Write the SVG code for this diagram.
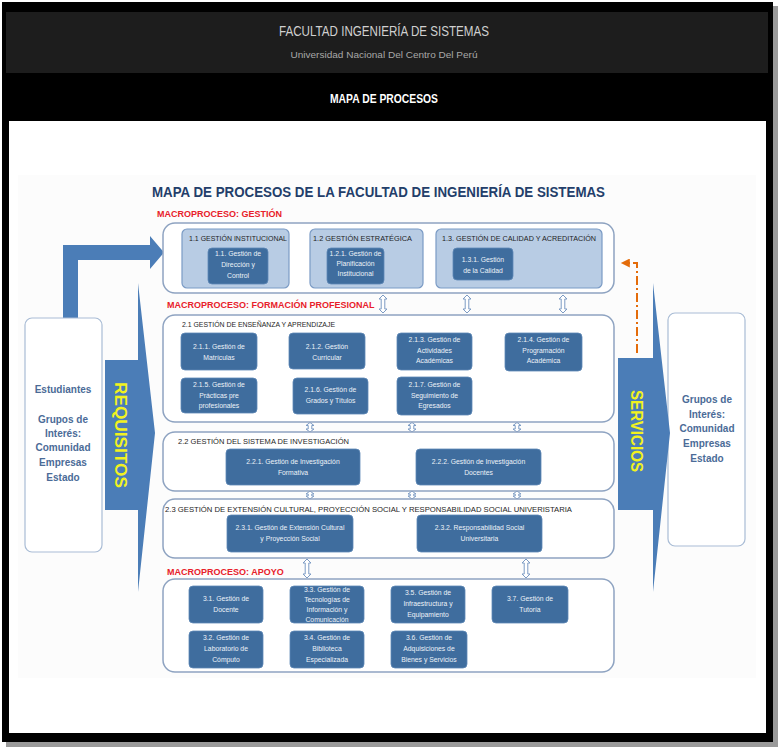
<svg xmlns="http://www.w3.org/2000/svg" width="781" height="751" viewBox="0 0 781 751">
<defs>
<style>
.hdr{font-family:"Liberation Sans Narrow","Liberation Sans",Arial,sans-serif}
.outer{fill:#fff;stroke:#8ea3c1;stroke-width:1.5}
.lb{fill:#b8cce4;stroke:#7b9bc5;stroke-width:1.2}
.db{fill:#3f6d9e;stroke:#5e88b6;stroke-width:0.8}
.dt{font-family:"Liberation Sans",Arial,sans-serif;font-size:6.8px;fill:#edf2f8;text-anchor:middle}
.lt{font-family:"Liberation Sans",Arial,sans-serif;font-size:7px;fill:#1e1e1e}
.red{font-family:"Liberation Sans",Arial,sans-serif;font-size:9px;font-weight:bold;fill:#e8202a}
.da{fill:#fff;stroke:#7c9bc4;stroke-width:1}
.big{fill:#4b7db7}
.ext{fill:#fff;stroke:#a9bcd5;stroke-width:1.2}
.et{font-family:"Liberation Sans",Arial,sans-serif;font-size:10px;font-weight:bold;fill:#4b6b97;text-anchor:middle}
.yl{font-family:"Liberation Sans",Arial,sans-serif;font-size:16px;font-weight:bold;fill:#f2f21e;text-anchor:middle}
</style>
<marker id="oa" viewBox="0 0 10 10" markerWidth="12" markerHeight="9" markerUnits="userSpaceOnUse" refX="2" refY="5" orient="auto-start-reverse">
<path d="M0,0 L10,5 L0,10 Z" fill="#e46c0a"/>
</marker>
</defs>

<!-- page frame -->
<rect x="0" y="0" width="781" height="751" fill="#fff"/>
<rect x="6" y="6" width="772" height="741" fill="#9a9a9a"/>
<rect x="2" y="2" width="771" height="740" fill="#000"/>
<rect x="6" y="12" width="762" height="61" fill="#1d1d1d"/>
<rect x="9" y="121" width="757" height="612" fill="#fff"/>
<rect x="18" y="175" width="738" height="503" fill="#fcfcfc"/>

<text class="hdr" x="384" y="36" font-size="15" fill="#d0d0d0" text-anchor="middle" textLength="210" lengthAdjust="spacingAndGlyphs">FACULTAD INGENIERÍA DE SISTEMAS</text>
<text class="hdr" x="384" y="58" font-size="9.5" fill="#a8a8a8" text-anchor="middle" textLength="187" lengthAdjust="spacingAndGlyphs">Universidad Nacional Del Centro Del Perú</text>
<text class="hdr" x="384" y="103" font-size="13" font-weight="bold" fill="#fff" text-anchor="middle" textLength="108" lengthAdjust="spacingAndGlyphs">MAPA DE PROCESOS</text>

<text x="152" y="197" font-family="Liberation Sans,Arial,sans-serif" font-size="14" font-weight="bold" fill="#233e6a" textLength="453" lengthAdjust="spacingAndGlyphs">MAPA DE PROCESOS DE LA FACULTAD DE INGENIERÍA DE SISTEMAS</text>
<text class="red" x="157" y="217">MACROPROCESO: GESTIÓN</text>
<text class="red" x="167" y="308">MACROPROCESO: FORMACIÓN PROFESIONAL</text>
<text class="red" x="167" y="575">MACROPROCESO: APOYO</text>

<!-- connectors -->
<g id="connectors">
<path class="big" d="M63,318 V245 H150 V236 L164,252.5 L150,269 V260 H78 V318 Z"/>
<path d="M628,263 H637 V355" fill="none" stroke="#e46c0a" stroke-width="2" stroke-dasharray="2,3,9,3" marker-start="url(#oa)"/>
<path class="da" d="M383,295 L387,299 L384.8,299 L384.8,309 L387,309 L383,313 L379,309 L381.2,309 L381.2,299 L379,299 Z"/>
<path class="da" d="M467,295 L471,299 L468.8,299 L468.8,309 L471,309 L467,313 L463,309 L465.2,309 L465.2,299 L463,299 Z"/>
<path class="da" d="M563,295 L567,299 L564.8,299 L564.8,309 L567,309 L563,313 L559,309 L561.2,309 L561.2,299 L559,299 Z"/>
<path class="da" d="M310,422.5 L314,425.5 L311.8,425.5 L311.8,429 L314,429 L310,432 L306,429 L308.2,429 L308.2,425.5 L306,425.5 Z"/>
<path class="da" d="M412,422.5 L416,425.5 L413.8,425.5 L413.8,429 L416,429 L412,432 L408,429 L410.2,429 L410.2,425.5 L408,425.5 Z"/>
<path class="da" d="M517,422.5 L521,425.5 L518.8,425.5 L518.8,429 L521,429 L517,432 L513,429 L515.2,429 L515.2,425.5 L513,425.5 Z"/>
<path class="da" d="M310,491 L314,494 L311.8,494 L311.8,496 L314,496 L310,499 L306,496 L308.2,496 L308.2,494 L306,494 Z"/>
<path class="da" d="M412,491 L416,494 L413.8,494 L413.8,496 L416,496 L412,499 L408,496 L410.2,496 L410.2,494 L408,494 Z"/>
<path class="da" d="M517,491 L521,494 L518.8,494 L518.8,496 L521,496 L517,499 L513,496 L515.2,496 L515.2,494 L513,494 Z"/>
<path class="da" d="M307,559 L311,563 L308.8,563 L308.8,574 L311,574 L307,578 L303,574 L305.2,574 L305.2,563 L303,563 Z"/>
<path class="da" d="M526,559 L530,563 L527.8,563 L527.8,574 L530,574 L526,578 L522,574 L524.2,574 L524.2,563 L522,563 Z"/>
</g>

<!-- external parties -->
<g id="estudiantes">
<rect class="ext" x="25" y="318" width="77" height="234" rx="7"/>
<text class="et" x="63" y="393">Estudiantes</text>
<text class="et" x="63" y="423">Grupos de</text>
<text class="et" x="63" y="437">Interés:</text>
<text class="et" x="63" y="451">Comunidad</text>
<text class="et" x="63" y="466">Empresas</text>
<text class="et" x="63" y="481">Estado</text>
</g>
<g id="grupos-interes">
<rect class="ext" x="668" y="313" width="77" height="233" rx="7"/>
<text class="et" x="707" y="403">Grupos de</text>
<text class="et" x="707" y="418">Interés:</text>
<text class="et" x="707" y="432">Comunidad</text>
<text class="et" x="707" y="447">Empresas</text>
<text class="et" x="707" y="462">Estado</text>
</g>
<g id="requisitos">
<path class="big" d="M105,360 H138 V283 L155,433 L138,592 V510 H105 Z"/>
<text class="yl" x="121" y="441" transform="rotate(90,121,435)" textLength="106" lengthAdjust="spacingAndGlyphs">REQUISITOS</text>
</g>
<g id="servicios">
<path class="big" d="M618,358 H653 V283 L670,433 L653,592 V510 H618 Z"/>
<text class="yl" x="637" y="437" transform="rotate(90,637,431)" textLength="82" lengthAdjust="spacingAndGlyphs">SERVICIOS</text>
</g>

<!-- Macroproceso Gestión -->
<g id="gestion">
<rect class="outer" x="163" y="223" width="451" height="70" rx="12"/>
</g>
<g id="g11">
<rect class="lb" x="182" y="229" width="107" height="59" rx="5"/>
<text class="lt" x="189" y="241" textLength="98" lengthAdjust="spacingAndGlyphs">1.1 GESTIÓN INSTITUCIONAL</text>
</g>
<g id="g111">
<rect class="db" x="208" y="248" width="60" height="36" rx="4"/>
<text class="dt" x="238" y="256">1.1. Gestión de</text>
<text class="dt" x="238" y="267">Dirección y</text>
<text class="dt" x="238" y="278">Control</text>
</g>
<g id="g12">
<rect class="lb" x="310" y="229" width="113" height="59" rx="5"/>
<text class="lt" x="313" y="241" textLength="99" lengthAdjust="spacingAndGlyphs">1.2 GESTIÓN ESTRATÉGICA</text>
</g>
<g id="g121">
<rect class="db" x="327" y="248" width="57" height="36" rx="4"/>
<text class="dt" x="355.5" y="256" font-size="6">1.2.1. Gestión de</text>
<text class="dt" x="355.5" y="266" font-size="6">Planificación</text>
<text class="dt" x="355.5" y="276" font-size="6">Institucional</text>
</g>
<g id="g13">
<rect class="lb" x="436" y="229" width="166" height="59" rx="5"/>
<text class="lt" x="442" y="241" textLength="154" lengthAdjust="spacingAndGlyphs">1.3. GESTIÓN DE CALIDAD Y ACREDITACIÓN</text>
</g>
<g id="g131">
<rect class="db" x="453" y="248" width="60" height="32" rx="4"/>
<text class="dt" x="483" y="262">1.3.1. Gestión</text>
<text class="dt" x="483" y="273">de la Calidad</text>
</g>

<!-- Macroproceso Formación profesional -->
<g id="f21">
<rect class="outer" x="163" y="315" width="451" height="107" rx="12"/>
<text class="lt" x="182" y="327" textLength="153" lengthAdjust="spacingAndGlyphs">2.1 GESTIÓN DE ENSEÑANZA Y APRENDIZAJE</text>
</g>
<g id="f211">
<rect class="db" x="181" y="333" width="76" height="37" rx="4"/>
<text class="dt" x="219" y="349">2.1.1. Gestión de</text>
<text class="dt" x="219" y="360">Matrículas</text>
</g>
<g id="f212">
<rect class="db" x="289" y="333" width="76" height="36" rx="4"/>
<text class="dt" x="327" y="349">2.1.2. Gestión</text>
<text class="dt" x="327" y="360">Curricular</text>
</g>
<g id="f213">
<rect class="db" x="397" y="333" width="75" height="37" rx="4"/>
<text class="dt" x="434.5" y="342">2.1.3. Gestión de</text>
<text class="dt" x="434.5" y="352.5">Actividades</text>
<text class="dt" x="434.5" y="363">Académicas</text>
</g>
<g id="f214">
<rect class="db" x="505" y="333" width="77" height="38" rx="4"/>
<text class="dt" x="543.5" y="342">2.1.4. Gestión de</text>
<text class="dt" x="543.5" y="352.5">Programación</text>
<text class="dt" x="543.5" y="363">Académica</text>
</g>
<g id="f215">
<rect class="db" x="181" y="378" width="76" height="35" rx="4"/>
<text class="dt" x="219" y="387">2.1.5. Gestión de</text>
<text class="dt" x="219" y="397.5">Prácticas pre</text>
<text class="dt" x="219" y="408">profesionales</text>
</g>
<g id="f216">
<rect class="db" x="293" y="378" width="75" height="36" rx="4"/>
<text class="dt" x="330.5" y="392">2.1.6. Gestión de</text>
<text class="dt" x="330.5" y="402.5">Grados y Títulos</text>
</g>
<g id="f217">
<rect class="db" x="397" y="377" width="75" height="38" rx="4"/>
<text class="dt" x="434.5" y="387">2.1.7. Gestión de</text>
<text class="dt" x="434.5" y="397.5">Seguimiento de</text>
<text class="dt" x="434.5" y="408">Egresados</text>
</g>

<g id="f22">
<rect class="outer" x="163" y="432" width="451" height="59" rx="12"/>
<text class="lt" x="178" y="444" textLength="171" lengthAdjust="spacingAndGlyphs">2.2 GESTIÓN DEL SISTEMA DE INVESTIGACIÓN</text>
</g>
<g id="f221">
<rect class="db" x="226" y="449" width="134" height="36" rx="4"/>
<text class="dt" x="293" y="464" font-size="7.2">2.2.1. Gestión de Investigación</text>
<text class="dt" x="293" y="475" font-size="7.2">Formativa</text>
</g>
<g id="f222">
<rect class="db" x="416" y="449" width="125" height="36" rx="4"/>
<text class="dt" x="478.5" y="464" font-size="7.2">2.2.2. Gestión de Investigación</text>
<text class="dt" x="478.5" y="475" font-size="7.2">Docentes</text>
</g>

<g id="f23">
<rect class="outer" x="163" y="499" width="451" height="59" rx="12"/>
<text class="lt" x="165" y="512" textLength="407" lengthAdjust="spacingAndGlyphs">2.3 GESTIÓN DE EXTENSIÓN CULTURAL, PROYECCIÓN SOCIAL Y RESPONSABILIDAD SOCIAL UNIVERISTARIA</text>
</g>
<g id="f231">
<rect class="db" x="227" y="515" width="126" height="37" rx="4"/>
<text class="dt" x="290" y="530" font-size="7.2">2.3.1. Gestión de Extensión Cultural</text>
<text class="dt" x="290" y="541" font-size="7.2">y Proyección Social</text>
</g>
<g id="f232">
<rect class="db" x="417" y="515" width="125" height="37" rx="4"/>
<text class="dt" x="479.5" y="530" font-size="7.2">2.3.2. Responsabilidad Social</text>
<text class="dt" x="479.5" y="541" font-size="7.2">Universitaria</text>
</g>

<!-- Macroproceso Apoyo -->
<g id="apoyo">
<rect class="outer" x="163" y="579" width="451" height="93" rx="12"/>
</g>
<g id="a31">
<rect class="db" x="189" y="586" width="74" height="37" rx="4"/>
<text class="dt" x="226" y="601">3.1. Gestión de</text>
<text class="dt" x="226" y="612">Docente</text>
</g>
<g id="a33">
<rect class="db" x="290" y="586" width="74" height="37" rx="4"/>
<text class="dt" x="327" y="591.5" font-size="6.5">3.3. Gestión de</text>
<text class="dt" x="327" y="601.5" font-size="6.5">Tecnologías de</text>
<text class="dt" x="327" y="611.5" font-size="6.5">Información y</text>
<text class="dt" x="327" y="621.5" font-size="6.5">Comunicación</text>
</g>
<g id="a35">
<rect class="db" x="391" y="586" width="74" height="37" rx="4"/>
<text class="dt" x="428" y="595">3.5. Gestión de</text>
<text class="dt" x="428" y="606">Infraestructura y</text>
<text class="dt" x="428" y="617">Equipamiento</text>
</g>
<g id="a37">
<rect class="db" x="492" y="586" width="76" height="37" rx="4"/>
<text class="dt" x="530" y="601">3.7. Gestión de</text>
<text class="dt" x="530" y="612">Tutoría</text>
</g>
<g id="a32">
<rect class="db" x="189" y="631" width="74" height="37" rx="4"/>
<text class="dt" x="226" y="640">3.2. Gestión de</text>
<text class="dt" x="226" y="651">Laboratorio de</text>
<text class="dt" x="226" y="662">Cómputo</text>
</g>
<g id="a34">
<rect class="db" x="290" y="631" width="74" height="37" rx="4"/>
<text class="dt" x="327" y="640">3.4. Gestión de</text>
<text class="dt" x="327" y="651">Biblioteca</text>
<text class="dt" x="327" y="662">Especializada</text>
</g>
<g id="a36">
<rect class="db" x="391" y="631" width="76" height="37" rx="4"/>
<text class="dt" x="429" y="640">3.6. Gestión de</text>
<text class="dt" x="429" y="651">Adquisiciones de</text>
<text class="dt" x="429" y="662">Bienes y Servicios</text>
</g>
</svg>
